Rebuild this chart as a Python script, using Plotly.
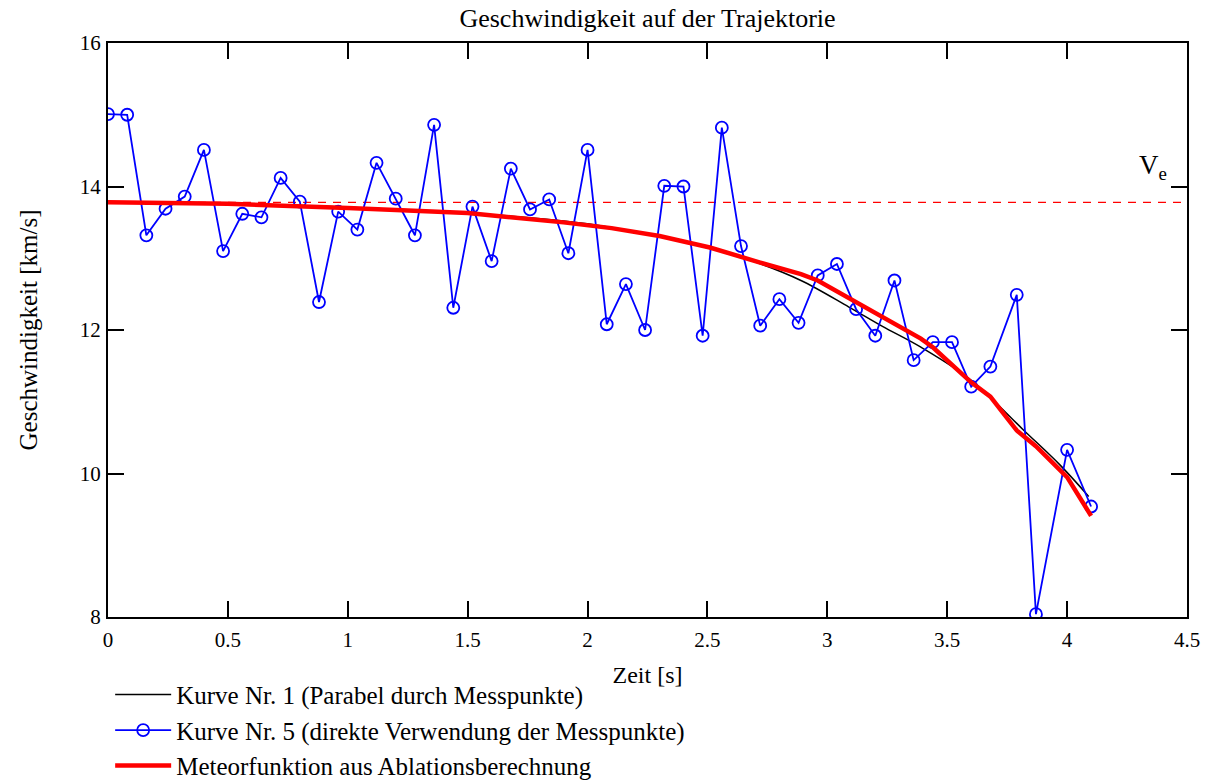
import plotly.graph_objects as go

# Messpunkte (Kurve Nr. 5)
zeit_mess = [0.00, 0.08, 0.16, 0.24, 0.32, 0.40, 0.48, 0.56, 0.64, 0.72,
             0.80, 0.88, 0.96, 1.04, 1.12, 1.20, 1.28, 1.36, 1.44, 1.52,
             1.60, 1.68, 1.76, 1.84, 1.92, 2.00, 2.08, 2.16, 2.24, 2.32,
             2.40, 2.48, 2.56, 2.64, 2.72, 2.80, 2.88, 2.96, 3.04, 3.12,
             3.20, 3.28, 3.36, 3.44, 3.52, 3.60, 3.68, 3.79, 3.87, 4.00, 4.10]
v_mess = [15.01, 15.00, 13.32, 13.69, 13.86, 14.51, 13.10, 13.62, 13.57, 14.12,
          13.79, 12.39, 13.65, 13.40, 14.33, 13.83, 13.32, 14.86, 12.31, 13.72,
          12.96, 14.25, 13.68, 13.82, 13.07, 14.51, 12.08, 12.64, 12.00, 14.01,
          14.00, 11.92, 14.82, 13.17, 12.06, 12.43, 12.10, 12.76, 12.92, 12.29,
          11.92, 12.69, 11.58, 11.83, 11.83, 11.21, 11.49, 12.49, 8.04, 10.33, 9.54]

# Kurve Nr. 1 (Parabel durch Messpunkte)
zeit_parabel = [0.0, 0.5, 1.0, 1.5, 2.0, 2.47, 2.68, 2.89, 3.09, 3.23, 3.39, 3.60, 3.82, 3.97, 4.09]
v_parabel = [13.77, 13.76, 13.71, 13.63, 13.48, 13.17, 12.97, 12.69, 12.32, 12.05, 11.76, 11.30, 10.60, 10.12, 9.68]

# Meteorfunktion aus Ablationsberechnung
zeit_meteor = [0.0, 0.5, 1.0, 1.5, 1.9, 2.1, 2.30, 2.51, 2.72, 2.89, 2.96, 3.09, 3.23, 3.39, 3.44, 3.52, 3.60, 3.68, 3.79, 3.87, 4.00, 4.10]
v_meteor = [13.78, 13.76, 13.70, 13.63, 13.50, 13.42, 13.31, 13.15, 12.94, 12.78, 12.69, 12.44, 12.17, 11.88, 11.76, 11.52, 11.27, 11.07, 10.60, 10.38, 9.95, 9.41]

# Eintrittsgeschwindigkeit
v_e = 13.78
x_range = [0, 4.5]
y_range = [8, 16]
x_ticks = [0, 0.5, 1, 1.5, 2, 2.5, 3, 3.5, 4, 4.5]
y_ticks = [8, 10, 12, 14, 16]

FONT = "Liberation Serif, Times New Roman, serif"

fig = go.Figure()

fig.add_trace(go.Scatter(
    x=x_range, y=[v_e, v_e], mode="lines",
    line=dict(color="#ff0000", width=1.3, dash="8px,7px"),
    showlegend=False, hoverinfo="skip"))

fig.add_trace(go.Scatter(
    x=zeit_parabel, y=v_parabel, mode="lines",
    line=dict(color="black", width=1.5, shape="spline"),
    name="Kurve Nr. 1 (Parabel durch Messpunkte)"))

fig.add_trace(go.Scatter(
    x=zeit_mess, y=v_mess, mode="lines+markers",
    line=dict(color="#0000ff", width=1.8),
    marker=dict(symbol="circle-open", size=12, color="#0000ff", line=dict(width=1.8)),
    name="Kurve Nr. 5 (direkte Verwendung der Messpunkte)"))

fig.add_trace(go.Scatter(
    x=zeit_meteor, y=v_meteor, mode="lines",
    line=dict(color="#ff0000", width=4.5),
    name="Meteorfunktion aus Ablationsberechnung"))

axis_common = dict(
    showline=True, linecolor="black", linewidth=2, mirror="ticks",
    ticks="inside", ticklen=16, tickwidth=1.5, tickcolor="black",
    showgrid=False, zeroline=False, automargin=False,
    tickfont=dict(family=FONT, size=21, color="black"))

fig.update_xaxes(range=x_range, tickvals=x_ticks,
                 ticktext=[f"{t:g}" for t in x_ticks],
                 ticklabelstandoff=3,
                 title=dict(text="Zeit [s]", font=dict(family=FONT, size=24, color="black"), standoff=15),
                 **axis_common)
fig.update_yaxes(range=y_range, tickvals=y_ticks,
                 ticklabelstandoff=1,
                 title=dict(text="Geschwindigkeit [km/s]", font=dict(family=FONT, size=25, color="black"), standoff=35),
                 **axis_common)

fig.add_annotation(xref="x", yref="y", x=4.36, y=14.01,
                   text="V<sub>e</sub>", showarrow=False,
                   xanchor="center", yanchor="bottom",
                   font=dict(family=FONT, size=27, color="black"))

fig.update_layout(
    width=1208, height=781,
    margin=dict(l=108, r=21, t=43, b=164, autoexpand=False),
    paper_bgcolor="white", plot_bgcolor="white",
    title=dict(text="Geschwindigkeit auf der Trajektorie", x=0.5, xanchor="center",
               xref="paper", y=0.977, yref="container", yanchor="middle",
               font=dict(family=FONT, size=26, color="black"), automargin=False),
    font=dict(family=FONT, color="black"),
    legend=dict(x=0.002, xanchor="left", y=-0.0955, yanchor="top",
                itemwidth=56,
                font=dict(family=FONT, size=25, color="black"),
                bgcolor="rgba(0,0,0,0)"),
)

fig.write_html("out.html", config={"displayModeBar": False},
               post_script="document.body.style.margin='0px';")
